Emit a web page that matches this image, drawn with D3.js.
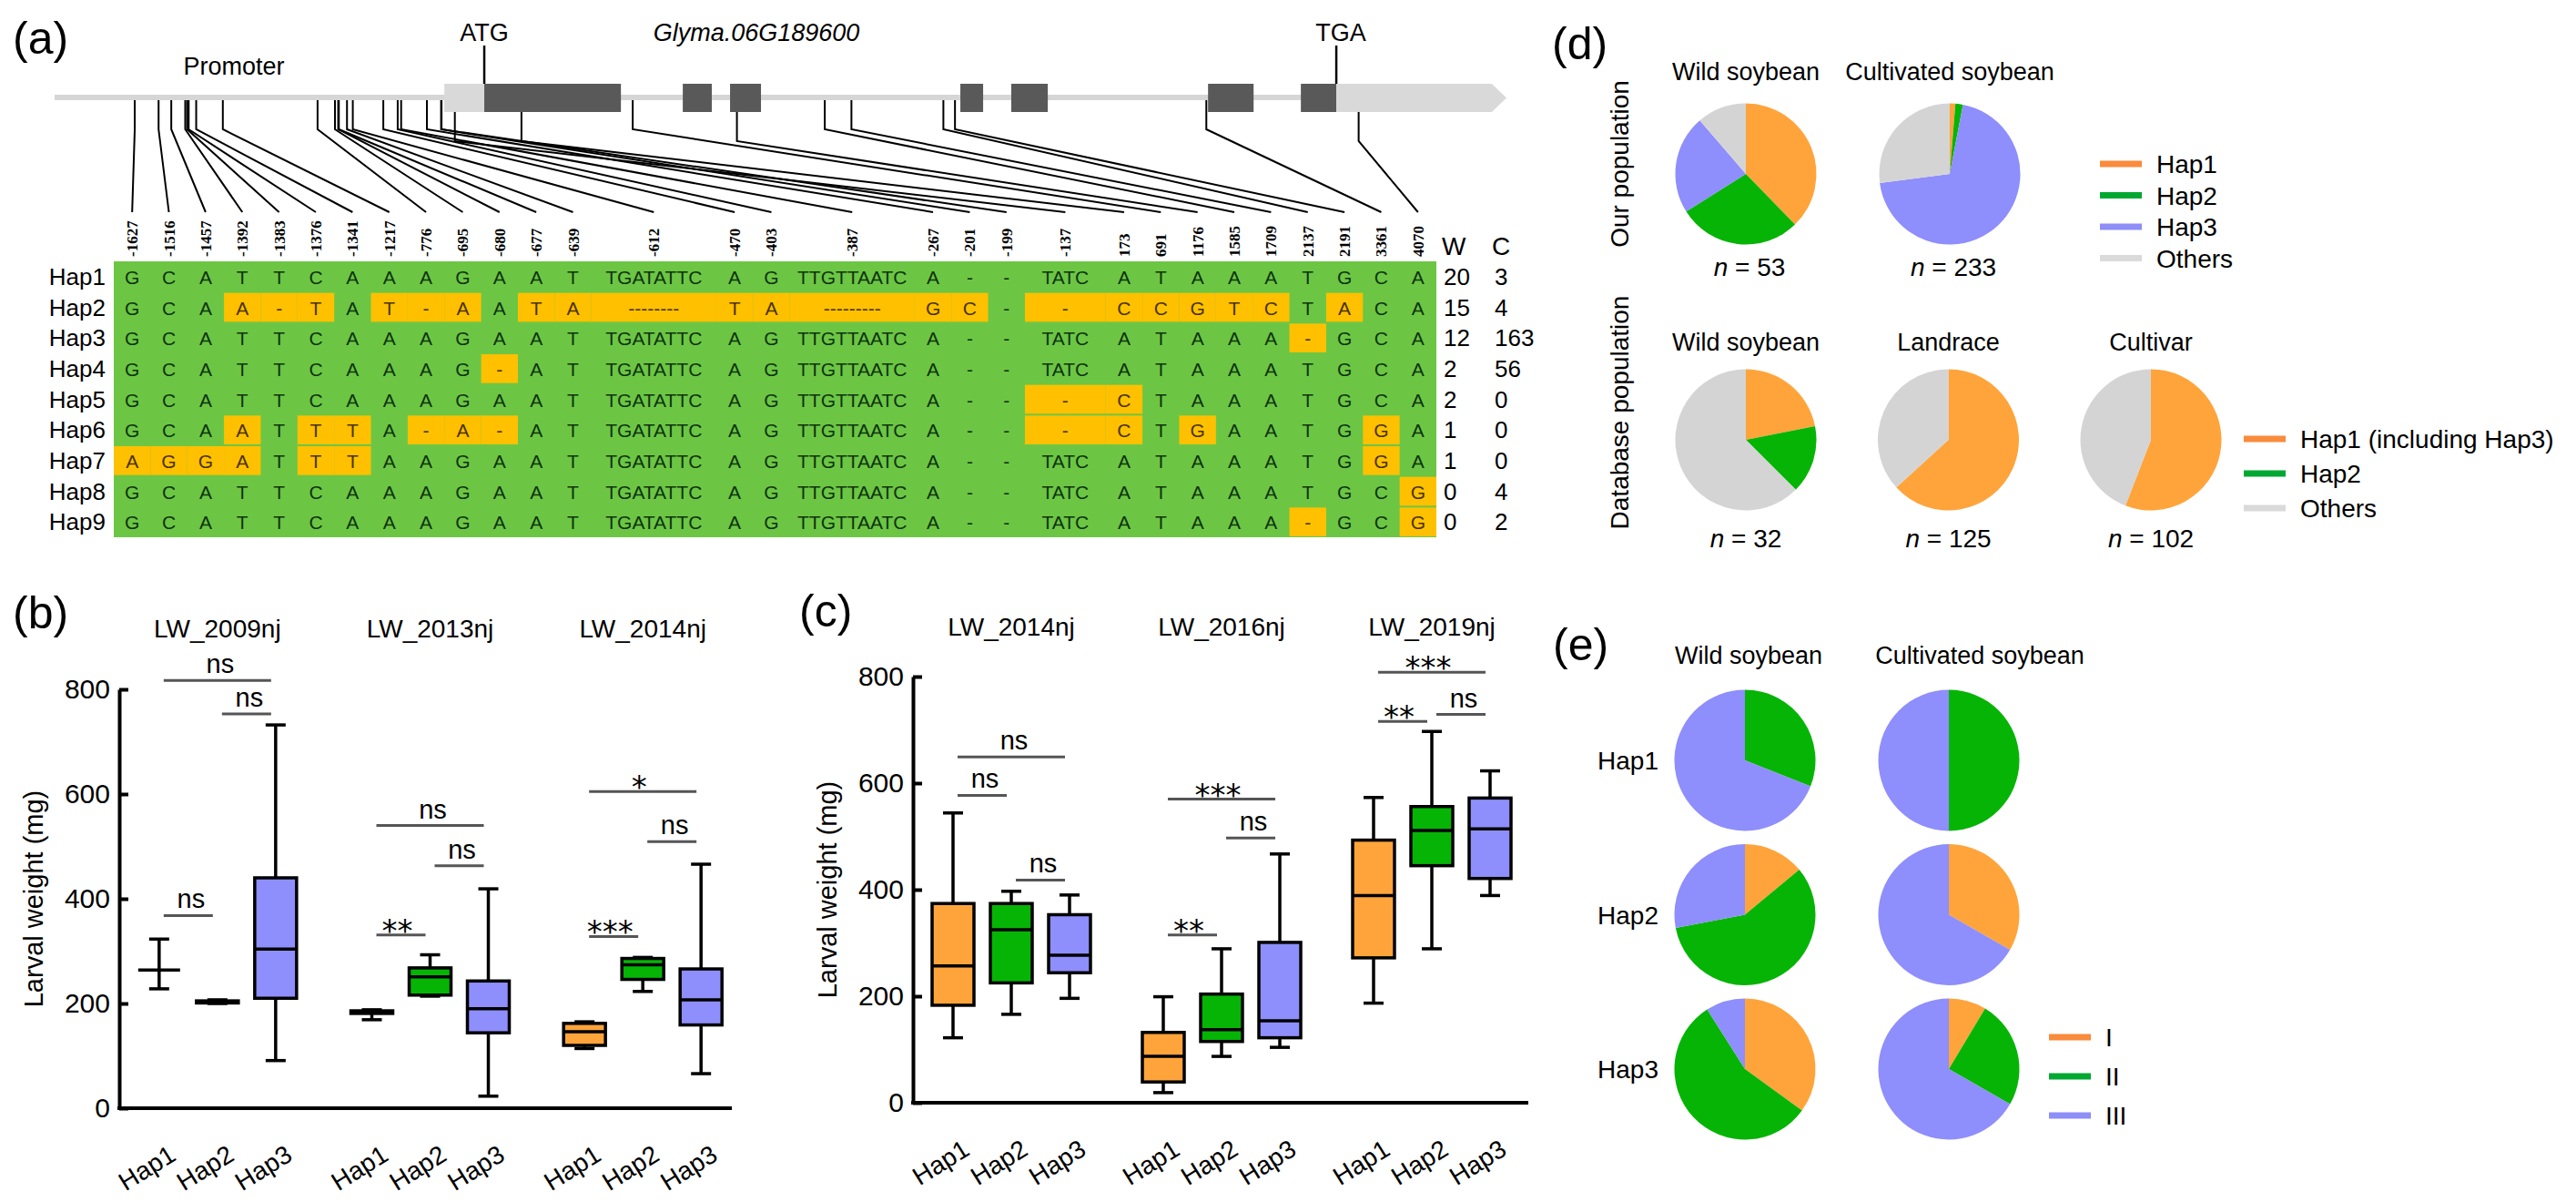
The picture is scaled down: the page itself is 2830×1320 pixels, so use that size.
<!DOCTYPE html>
<html>
<head>
<meta charset="utf-8">
<script src="https://cdn.jsdelivr.net/npm/d3@7"></script>
<style>
  body { margin: 0; background: #fff; }
</style>
</head>
<body>
<script>
// ---------------- data ----------------
const snpPositions = [-1627, -1516, -1457, -1392, -1383, -1376, -1341, -1217, -776, -695, -680, -677, -639,
  -612, -470, -403, -387, -267, -201, -199, -137, 173, 691, 1176, 1585, 1709, 2137, 2191, 3361, 4070]
const hapNames = ["Hap1", "Hap2", "Hap3", "Hap4", "Hap5", "Hap6", "Hap7", "Hap8", "Hap9"]
const hapSeqs = [
  "G C A T T C A A A G A A T TGATATTC A G TTGTTAATC A - - TATC A T A A A T G C A",
  "G C A A - T A T - A A T A -------- T A --------- G C - - C C G T C T A C A",
  "G C A T T C A A A G A A T TGATATTC A G TTGTTAATC A - - TATC A T A A A - G C A",
  "G C A T T C A A A G - A T TGATATTC A G TTGTTAATC A - - TATC A T A A A T G C A",
  "G C A T T C A A A G A A T TGATATTC A G TTGTTAATC A - - - C T A A A T G C A",
  "G C A A T T T A - A - A T TGATATTC A G TTGTTAATC A - - - C T G A A T G G A",
  "A G G A T T T A A G A A T TGATATTC A G TTGTTAATC A - - TATC A T A A A T G G A",
  "G C A T T C A A A G A A T TGATATTC A G TTGTTAATC A - - TATC A T A A A T G C G",
  "G C A T T C A A A G A A T TGATATTC A G TTGTTAATC A - - TATC A T A A A - G C G"
].map(s => s.split(" "))
const wildCounts = [20, 15, 12, 2, 2, 1, 1, 0, 0]
const cultCounts = [3, 4, 163, 56, 0, 0, 0, 4, 2]

// gene model (bp relative to ATG)
const promoterStart = -2000
const utr5 = [-186, 0]
const exons = [[0, 636], [924, 1059], [1144, 1288], [2216, 2322], [2453, 2623], [3369, 3581], [3801, 3966]]
const utr3 = [3966, 4690]
const geneTip = 4758

// box plots: [min, q1, median, q3, max]
const boxHaps = ["Hap1", "Hap2", "Hap3"]
const groupsB = ["LW_2009nj", "LW_2013nj", "LW_2014nj"]
const statsB = [
  [[228, 264, 264, 264, 323], [200, 201, 203, 205, 207], [91, 210, 304, 440, 732]],
  [[169, 181, 183, 186, 188], [214, 216, 251, 268, 293], [23, 144, 190, 243, 419]],
  [[114, 120, 146, 162, 165], [223, 246, 274, 286, 288], [66, 159, 207, 266, 466]]
]
const sigB = [
  [0, 0, 2, 817, "ns"], [0, 1, 2, 753, "ns"], [0, 0, 1, 368, "ns"],
  [1, 0, 2, 540, "ns"], [1, 1, 2, 463, "ns"], [1, 0, 1, 331, "**"],
  [2, 0, 2, 605, "*"], [2, 1, 2, 509, "ns"], [2, 0, 1, 328, "***"]
]
const groupsC = ["LW_2014nj", "LW_2016nj", "LW_2019nj"]
const statsC = [
  [[122, 183, 257, 374, 544], [166, 225, 325, 374, 397], [196, 244, 277, 353, 390]],
  [[19, 39, 87, 132, 199], [87, 115, 137, 204, 289], [104, 122, 154, 301, 467]],
  [[187, 272, 389, 493, 573], [289, 445, 511, 556, 697], [389, 421, 514, 572, 623]]
]
const sigC = [
  [0, 0, 2, 649, "ns"], [0, 0, 1, 577, "ns"], [0, 1, 2, 418, "ns"],
  [1, 0, 2, 570, "***"], [1, 1, 2, 497, "ns"], [1, 0, 1, 315, "**"],
  [2, 0, 2, 808, "***"], [2, 0, 1, 716, "**"], [2, 1, 2, 729, "ns"]
]
const yTicks = [0, 200, 400, 600, 800]

// pies
const ourTitles = ["Wild soybean", "Cultivated soybean"]
const ourN = [53, 233]
const ourKeys = ["Hap1", "Hap2", "Hap3", "Others"]
const dbTitles = ["Wild soybean", "Landrace", "Cultivar"]
const dbN = [32, 125, 102]
const dbCounts = [[7, 5, 20], [79, 0, 46], [57, 0, 45]]
const dbKeys = ["Hap1 (including Hap3)", "Hap2", "Others"]
const eCols = ["Wild soybean", "Cultivated soybean"]
const eRows = ["Hap1", "Hap2", "Hap3"]
const eKeys = ["I", "II", "III"]
const eShares = [ // [col][row] -> I, II, III (%)
  [[0, 31, 69], [14, 58, 28], [35, 56, 9]],
  [[0, 50, 50], [33.3, 0, 66.7], [8.6, 24.7, 66.7]]
]

// ---------------- style ----------------
const FONT = "'Liberation Sans', Arial, sans-serif"
const cOrange = "#ffa43b", cGreen = "#06b406", cBlue = "#8e8efc", cGrey = "#d4d4d4"
const legOrange = "#f98b3c", legGreen = "#00a832", legBlue = "#8e8ef7", legGrey = "#dadada"

const svg = d3.select("body").append("svg")
  .attr("width", 2830).attr("height", 1320)
  .style("font-family", FONT)

function panelLabel(txt, x, y) {
  svg.append("text").attr("x", x).attr("y", y).attr("font-size", 50).text(txt)
}

// ---------------- (a) ----------------
panelLabel("(a)", 14, 59)
const gx = d3.scaleLinear().domain([promoterStart, geneTip]).range([60, 1655])
const trackTop = 92, trackBot = 123, lineTop = 104, lineBot = 110

const gene = svg.append("g").attr("id", "gene")
gene.append("rect")
  .attr("x", gx(promoterStart)).attr("y", lineTop)
  .attr("width", gx(utr3[0]) - gx(promoterStart)).attr("height", lineBot - lineTop)
  .attr("fill", "#d6d6d6")
gene.append("rect")
  .attr("x", gx(utr5[0])).attr("y", trackTop)
  .attr("width", gx(utr5[1]) - gx(utr5[0])).attr("height", trackBot - trackTop)
  .attr("fill", "#d9d9d9")
gene.selectAll("rect.exon").data(exons).enter().append("rect")
  .attr("class", "exon")
  .attr("x", d => gx(d[0])).attr("y", trackTop)
  .attr("width", d => gx(d[1]) - gx(d[0])).attr("height", trackBot - trackTop)
  .attr("fill", "#595959")
gene.append("polygon")
  .attr("points", [[gx(utr3[0]), trackTop], [gx(utr3[1]), trackTop], [gx(geneTip), (trackTop + trackBot) / 2],
    [gx(utr3[1]), trackBot], [gx(utr3[0]), trackBot]].map(p => p.join(",")).join(" "))
  .attr("fill", "#d9d9d9")

// annotations
svg.append("text").attr("x", 257).attr("y", 82).attr("text-anchor", "middle").attr("font-size", 27).text("Promoter")
svg.append("text").attr("x", gx(0)).attr("y", 45).attr("text-anchor", "middle").attr("font-size", 27).text("ATG")
svg.append("text").attr("x", gx(exons[6][1]) + 5).attr("y", 45).attr("text-anchor", "middle").attr("font-size", 27).text("TGA")
svg.append("text").attr("x", 831).attr("y", 45).attr("text-anchor", "middle").attr("font-size", 27)
  .attr("font-style", "italic").text("Glyma.06G189600")
;[0, exons[6][1]].forEach(bp => {
  svg.append("line").attr("x1", gx(bp)).attr("x2", gx(bp)).attr("y1", 50).attr("y2", trackTop)
    .attr("stroke", "#000").attr("stroke-width", 2.5)
})

// table columns
const colUnits = hapSeqs[0].map(s => s.length === 1 ? 1 : Math.min(3.4, 1 + s.length * 0.3))
const colStart = colUnits.map((u, i) => d3.sum(colUnits.slice(0, i)))
const cx = d3.scaleLinear().domain([0, d3.sum(colUnits)]).range([125, 1578])
const colCenter = i => cx(colStart[i] + colUnits[i] / 2)
const rowY = d3.scaleBand().domain(hapNames).range([287, 590])

// connectors
const inBox = bp => [utr5, ...exons, utr3].some(r => bp >= r[0] && bp <= r[1])
svg.append("g").attr("id", "connectors")
  .selectAll("path").data(snpPositions).enter().append("path")
  .attr("d", (bp, i) => {
    const p = d3.path()
    const y0 = inBox(bp) ? trackBot : lineBot
    p.moveTo(gx(bp), y0)
    p.lineTo(gx(bp), y0 + 32)
    p.lineTo(colCenter(i), 233)
    return p.toString()
  })
  .attr("fill", "none").attr("stroke", "#000").attr("stroke-width", 2)

svg.append("g").attr("id", "posLabels")
  .selectAll("text").data(snpPositions).enter().append("text")
  .attr("transform", (bp, i) => `translate(${colCenter(i) + 6},282) rotate(-90)`)
  .attr("font-family", "'Liberation Serif', 'DejaVu Serif', serif")
  .attr("font-size", 17).attr("font-weight", "bold")
  .text(d => d)

// table
const table = svg.append("g").attr("id", "table")
table.append("rect").attr("x", cx(0)).attr("y", rowY.range()[0])
  .attr("width", cx.range()[1] - cx.range()[0]).attr("height", rowY.range()[1] - rowY.range()[0])
  .attr("fill", "#6cc644")
hapSeqs.forEach((seq, r) => {
  const row = table.append("g")
  seq.forEach((allele, i) => {
    const diff = allele !== hapSeqs[0][i]
    if (diff) {
      row.append("rect")
        .attr("x", cx(colStart[i])).attr("y", rowY(hapNames[r]) + 1)
        .attr("width", cx(colStart[i] + colUnits[i]) - cx(colStart[i]))
        .attr("height", rowY.bandwidth() - 2)
        .attr("fill", "#ffc000")
    }
    row.append("text")
      .attr("x", colCenter(i)).attr("y", rowY(hapNames[r]) + rowY.bandwidth() / 2 + 8)
      .attr("text-anchor", "middle").attr("font-size", 21)
      .attr("fill", diff ? "#4a3200" : "#0f330f")
      .text(allele)
  })
})
table.selectAll("text.hap").data(hapNames).enter().append("text")
  .attr("class", "hap")
  .attr("x", 116).attr("y", d => rowY(d) + rowY.bandwidth() / 2 + 9)
  .attr("text-anchor", "end").attr("font-size", 26).text(d => d)
svg.append("text").attr("x", 1584).attr("y", 280).attr("font-size", 28).text("W")
svg.append("text").attr("x", 1639).attr("y", 280).attr("font-size", 28).text("C")
table.selectAll("text.w").data(wildCounts).enter().append("text")
  .attr("x", 1586).attr("y", (d, i) => rowY(hapNames[i]) + rowY.bandwidth() / 2 + 9)
  .attr("font-size", 26).text(d => d)
table.selectAll("text.c").data(cultCounts).enter().append("text")
  .attr("x", 1642).attr("y", (d, i) => rowY(hapNames[i]) + rowY.bandwidth() / 2 + 9)
  .attr("font-size", 26).text(d => d)

// ---------------- (b) & (c) ----------------
const boxFill = [cOrange, cGreen, cBlue]

function boxPanel(p) {
  const y = d3.scaleLinear().domain([0, 800]).range(p.yRange)
  const band = d3.scaleBand().domain(p.groups).range(p.bandRange)
  const off = d3.scalePoint().domain(boxHaps).range([-64, 64])
  const xc = (gi, hi) => band(p.groups[gi]) + band.bandwidth() / 2 + off(boxHaps[hi])
  const root = svg.append("g")

  root.append("g")
    .attr("transform", `translate(${p.axisX},0)`)
    .call(d3.axisLeft(y).tickValues(yTicks).tickSizeInner(-10).tickSizeOuter(0).tickPadding(10))
    .call(a => {
      a.attr("font-family", FONT).attr("font-size", 30)
      a.select(".domain").attr("stroke-width", 4)
      a.selectAll(".tick line").attr("stroke-width", 4)
      a.selectAll(".tick text").attr("fill", "#000")
    })
  root.append("line")
    .attr("x1", p.axisX - 2).attr("x2", p.axisEnd).attr("y1", y(0)).attr("y2", y(0))
    .attr("stroke", "#000").attr("stroke-width", 4)
  root.append("text")
    .attr("transform", `translate(${p.axisX - 84},${(p.yRange[0] + p.yRange[1]) / 2}) rotate(-90)`)
    .attr("text-anchor", "middle").attr("font-size", 29).text("Larval weight (mg)")

  root.selectAll("text.gt").data(p.groups).enter().append("text")
    .attr("x", d => band(d) + band.bandwidth() / 2).attr("y", p.titleY)
    .attr("text-anchor", "middle").attr("font-size", 28).text(d => d)

  p.stats.forEach((grp, gi) => grp.forEach((s, hi) => {
    const x = xc(gi, hi), bw = 46, cw = 22
    const g = root.append("g").attr("stroke", "#000").attr("stroke-width", 3.5)
    g.append("line").attr("x1", x).attr("x2", x).attr("y1", y(s[0])).attr("y2", y(s[4]))
    g.append("line").attr("x1", x - cw / 2).attr("x2", x + cw / 2).attr("y1", y(s[0])).attr("y2", y(s[0]))
    g.append("line").attr("x1", x - cw / 2).attr("x2", x + cw / 2).attr("y1", y(s[4])).attr("y2", y(s[4]))
    g.append("rect").attr("x", x - bw / 2).attr("y", y(s[3])).attr("width", bw)
      .attr("height", Math.max(0, y(s[1]) - y(s[3]))).attr("fill", boxFill[hi])
    g.append("line").attr("x1", x - bw / 2).attr("x2", x + bw / 2).attr("y1", y(s[2])).attr("y2", y(s[2]))

    root.append("text")
      .attr("transform", `translate(${x + 20},${y(0) + 56}) rotate(-32)`)
      .attr("text-anchor", "end").attr("font-size", 28).text(boxHaps[hi])
  }))

  p.sigs.forEach(([gi, a, b, lvl, lab]) => {
    const x1 = xc(gi, a) + 5, x2 = xc(gi, b) - 5, yy = y(lvl)
    root.append("line").attr("x1", x1).attr("x2", x2).attr("y1", yy).attr("y2", yy)
      .attr("stroke", "#555").attr("stroke-width", 3)
    const star = lab.startsWith("*")
    root.append("text")
      .attr("x", (x1 + x2) / 2 + (star ? -4 : 3)).attr("y", star ? yy + 7 : yy - 8)
      .attr("text-anchor", "middle")
      .attr("font-family", star ? "'DejaVu Sans', sans-serif" : null)
      .attr("font-size", star ? 34 : 29).text(lab)
  })
}

panelLabel("(b)", 14, 690)
boxPanel({ groups: groupsB, stats: statsB, sigs: sigB, yRange: [1217, 757], bandRange: [122, 823],
  axisX: 131, axisEnd: 804, titleY: 700 })
panelLabel("(c)", 878, 688)
boxPanel({ groups: groupsC, stats: statsC, sigs: sigC, yRange: [1211, 743], bandRange: [995.5, 1688.5],
  axisX: 1003, axisEnd: 1679, titleY: 698 })

// ---------------- (d) ----------------
const R = 77.5
const arc = d3.arc().innerRadius(0).outerRadius(R)
const pieGen = d3.pie().sort(null).value(d => d)

function drawPie(cxp, cyp, values, colors) {
  svg.append("g").attr("transform", `translate(${cxp},${cyp})`)
    .selectAll("path").data(pieGen(values)).enter().append("path")
    .attr("d", arc).attr("fill", (d, i) => colors[i])
}
function nLabel(x, y, n) {
  const t = svg.append("text").attr("x", x).attr("y", y).attr("text-anchor", "middle").attr("font-size", 28)
  t.append("tspan").attr("font-style", "italic").text("n")
  t.append("tspan").text(" = " + n)
}
function legend(x, y0, step, keys, colors) {
  keys.forEach((k, i) => {
    const yy = y0 + i * step
    svg.append("line").attr("x1", x).attr("x2", x + 46).attr("y1", yy).attr("y2", yy)
      .attr("stroke", colors[i]).attr("stroke-width", 7)
    svg.append("text").attr("x", x + 62).attr("y", yy).attr("dy", "0.36em").attr("font-size", 28).text(k)
  })
}

panelLabel("(d)", 1705, 65)
svg.append("text").attr("transform", "translate(1789,180) rotate(-90)")
  .attr("text-anchor", "middle").attr("font-size", 28).text("Our population")
svg.append("text").attr("transform", "translate(1789,453) rotate(-90)")
  .attr("text-anchor", "middle").attr("font-size", 28).text("Database population")

const ourX = d3.scalePoint().domain(ourTitles).range([1918, 2142])
const ourCounts = [wildCounts, cultCounts].map((c, i) => {
  const top3 = c.slice(0, 3)
  return [...top3, ourN[i] - d3.sum(top3)]
})
ourTitles.forEach((t, i) => {
  const x = ourX(t)
  svg.append("text").attr("x", x).attr("y", 88).attr("text-anchor", "middle").attr("font-size", 27).text(t)
  drawPie(x, 191, ourCounts[i], [cOrange, cGreen, cBlue, cGrey])
  nLabel(x + 4, 303, ourN[i])
})
legend(2307, 180, 34.5, ourKeys, [legOrange, legGreen, legBlue, legGrey])

const dbX = d3.scalePoint().domain(dbTitles).range([1918, 2363])
dbTitles.forEach((t, i) => {
  const x = dbX(t)
  svg.append("text").attr("x", x).attr("y", 385).attr("text-anchor", "middle").attr("font-size", 27).text(t)
  drawPie(x, 483, dbCounts[i], [cOrange, cGreen, cGrey])
  nLabel(x, 601, dbN[i])
})
legend(2465, 482, 38, dbKeys, [legOrange, legGreen, legGrey])

// ---------------- (e) ----------------
panelLabel("(e)", 1706, 725)
const eX = d3.scalePoint().domain(eCols).range([1917, 2141])
const eY = d3.scalePoint().domain(eRows).range([835, 1174])
eCols.forEach((c, ci) => {
  svg.append("text").attr("x", eX(c) + (ci ? 34 : 4)).attr("y", 729).attr("text-anchor", "middle")
    .attr("font-size", 27).text(c)
  eRows.forEach((r, ri) => drawPie(eX(c), eY(r), eShares[ci][ri], [cOrange, cGreen, cBlue]))
})
eRows.forEach(r => {
  svg.append("text").attr("x", 1822).attr("y", eY(r)).attr("dy", "0.36em")
    .attr("text-anchor", "end").attr("font-size", 28).text(r)
})
legend(2251, 1139, 43, eKeys, [legOrange, legGreen, legBlue])
</script>
</body>
</html>
